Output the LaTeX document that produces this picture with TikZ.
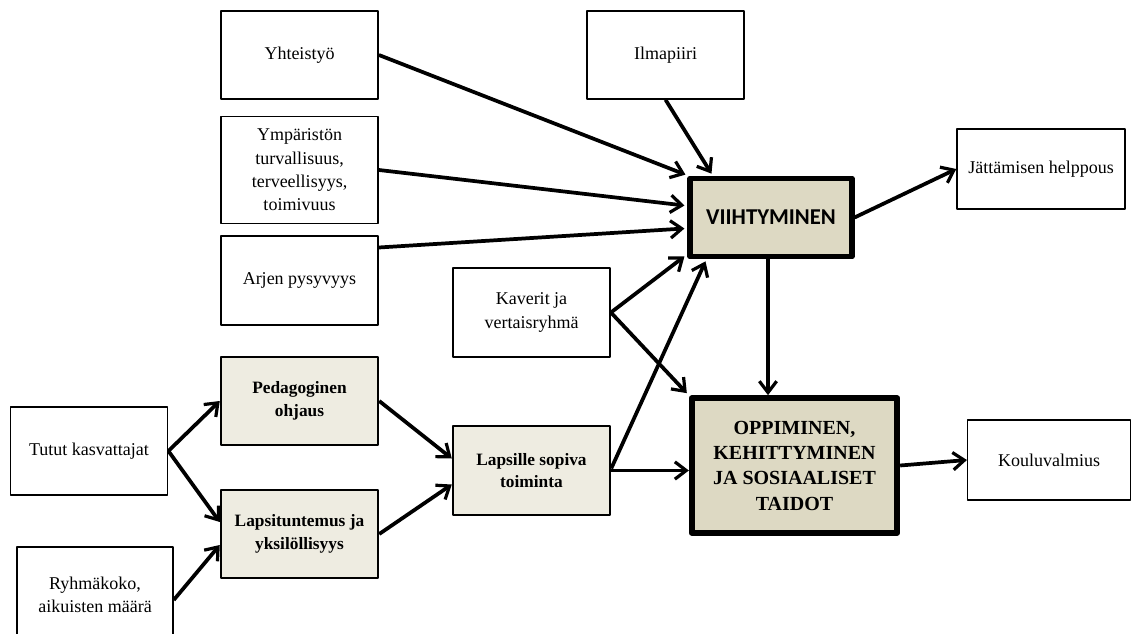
\documentclass[tikz,border=0pt]{standalone}
\usepackage{fontspec}
\setmainfont{Liberation Serif}
\newfontfamily\calib{Carlito}
\usetikzlibrary{arrows.meta}
\definecolor{tanlight}{HTML}{EEECE1}
\definecolor{tandark}{HTML}{DDD9C3}
\begin{document}
\begin{tikzpicture}[x=0.75pt, y=-0.75pt, line join=round,
    box/.style={draw, line width=1.1pt, fill=white, align=center, inner sep=2pt,
        font=\fontsize{13.5}{17.5}\selectfont, minimum width=118pt, minimum height=66pt},
    midbox/.style={box, line width=1.6pt, fill=tanlight, font=\fontsize{13}{17}\selectfont\bfseries},
    mainbox/.style={box, fill=tandark, line width=3.8pt},
    arr/.style={-{Straight Barb[length=8.5pt, width=13pt, line width=2.4pt]}, line width=2.8pt}]
\useasboundingbox (0,0) rectangle (1131,634);
% input boxes
\node[box] (yht) at (299.5,55) {Yhteisty\"o};
\node[box, minimum height=80pt] (ymp) at (299.5,170) {Ymp\"arist\"on\\turvallisuus,\\terveellisyys,\\toimivuus};
\node[box, minimum height=67pt] (arj) at (299.5,280.5) {Arjen pysyvyys};
\node[box] (ilm) at (665.5,55) {Ilmapiiri};
\node[box, minimum height=67pt] (kav) at (531.5,312.5) {Kaverit ja\\vertaisryhm\"a};
\node[box] (tut) at (89,451) {Tutut kasvattajat};
\node[box, minimum width=117pt, minimum height=72pt] (ryh) at (95,595) {Ryhm\"akoko,\\aikuisten m\"a\"ar\"a};
% middle
\node[midbox] (ped) at (299.5,401) {Pedagoginen\\ohjaus};
\node[midbox] (lpt) at (299.5,534) {Lapsituntemus ja\\yksil\"ollisyys};
\node[midbox, minimum height=67pt] (lap) at (531.5,470.5) {Lapsille sopiva\\toiminta};
% main
\node[mainbox, minimum width=121.5pt, minimum height=59pt, font=\calib\fontsize{17}{20}\selectfont\bfseries] (vii) at (771,217.5) {VIIHTYMINEN};
\node[mainbox, line width=4.5pt, minimum width=154pt, minimum height=101pt, font=\fontsize{15}{19}\selectfont\bfseries] (opp) at (794.5,465.5) {OPPIMINEN,\\KEHITTYMINEN\\JA SOSIAALISET\\TAIDOT};
% outcomes
\node[box, minimum width=126pt, minimum height=60pt] (jat) at (1041,169) {J\"att\"amisen helppous};
\node[box, minimum width=122pt, minimum height=60pt] (kou) at (1049,460) {Kouluvalmius};
% arrows
\draw[arr] (yht.east) -- ([shift={(-2,-1)}]vii.north west);
\draw[arr] (ymp.east) -- ([shift={(-3,-12)}]vii.west);
\draw[arr] ([shift={(0,-33)}]arj.east) -- ([shift={(-3,11)}]vii.west);
\draw[arr] (ilm.south) -- ([shift={(24,-2)}]vii.north west);
\draw[arr] (kav.east) -- ([shift={(-3,-3)}]vii.south west);
\draw[arr] (kav.east) -- ([shift={(-2,-2)}]opp.north west);
\draw[arr] ([shift={(0,-2)}]lap.east) -- ([shift={(18,2)}]vii.south west);
\draw[arr] (lap.east) -- (lap.east -| opp.west);
\draw[arr] ([shift={(-3,0)}]vii.south) -- ([shift={(-3,0)}]vii.south |- opp.north);
\draw[arr] (vii.east) -- (jat.west);
\draw[arr] (opp.east) -- (kou.west);
\draw[arr] (tut.east) -- (ped.west);
\draw[arr] (tut.east) -- ([shift={(0,-12)}]lpt.west);
\draw[arr] ([shift={(0,5)}]ryh.east) -- ([shift={(0,11)}]lpt.west);
\draw[arr] (ped.east) -- ([shift={(0,-12)}]lap.west);
\draw[arr] (lpt.east) -- ([shift={(0,14)}]lap.west);
\end{tikzpicture}
\end{document}
